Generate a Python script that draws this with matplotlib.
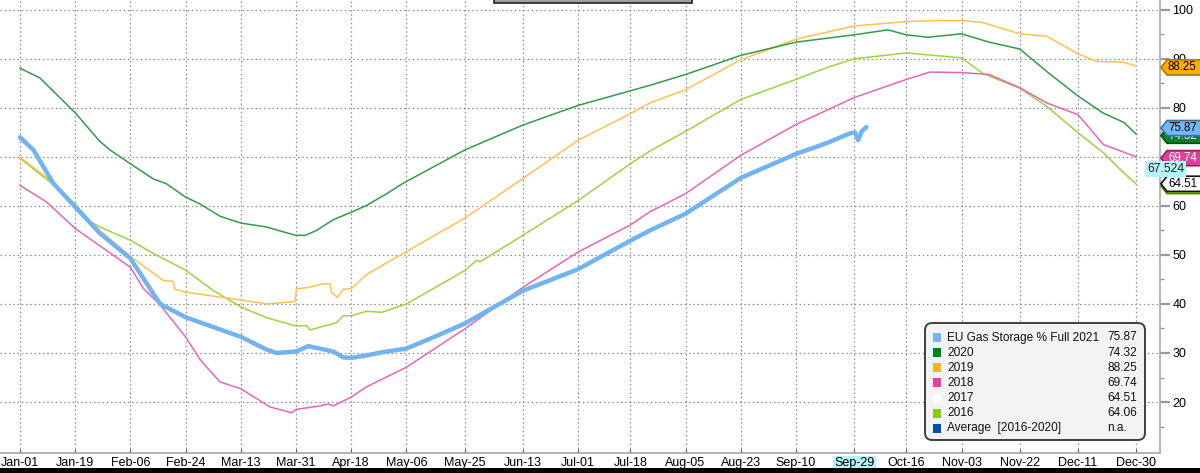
import matplotlib.pyplot as plt
from matplotlib.patches import Polygon, Rectangle, FancyBboxPatch
from matplotlib.transforms import blended_transform_factory

plt.rcParams['font.family'] = ['Liberation Sans', 'DejaVu Sans']

# eixo x em dias desde 01-jan (ano bissexto, como no grafico original)
tick_days = [0, 18, 36, 54, 72, 90, 108, 126, 145, 164, 182, 199, 217, 235, 253, 272, 289, 307, 326, 345, 364]
tick_labels = ["Jan-01", "Jan-19", "Feb-06", "Feb-24", "Mar-13", "Mar-31", "Apr-18", "May-06", "May-25",
               "Jun-13", "Jul-01", "Jul-18", "Aug-05", "Aug-23", "Sep-10", "Sep-29", "Oct-16", "Nov-03",
               "Nov-22", "Dec-11", "Dec-30"]

# 2020
dias_2020 = [0, 6.5, 18, 26, 29.4, 36, 43.5, 47.8, 54, 58.7, 65.2, 72, 80.4, 85.9, 90, 93, 96.7, 102.2, 108,
             113, 119.6, 124.6, 145, 164, 182, 205.4, 217, 235, 253, 272, 283, 289, 296, 307, 316, 326, 335,
             345, 353, 360, 364]
vals_2020 = [88.1, 86.1, 79.0, 73.2, 71.4, 68.6, 65.5, 64.5, 61.8, 60.4, 57.9, 56.5, 55.7, 54.7, 54.0, 54.0,
             55.0, 57.2, 58.7, 60.1, 62.5, 64.5, 71.4, 76.5, 80.5, 84.6, 86.8, 90.7, 93.4, 94.9, 95.9, 94.9,
             94.4, 95.1, 93.4, 92.0, 87.3, 82.4, 79.0, 77.0, 74.6]

# 2019
dias_2019 = [0, 9.8, 18, 26.1, 36, 46.7, 50, 50.5, 54, 72, 80.4, 89.7, 90.2, 93.5, 98.9, 101.1, 101.6, 103.5,
             105.4, 108, 113, 126, 145, 164, 182, 199, 205.4, 217, 235, 253, 272, 289, 298.9, 307, 314, 326,
             334.8, 345, 351, 359.8, 364]
vals_2019 = [69.9, 65.3, 59.8, 55.0, 49.7, 44.8, 44.6, 43.0, 42.4, 40.8, 40.0, 40.5, 43.1, 43.3, 44.1, 44.1,
             42.4, 41.3, 43.0, 43.1, 46.0, 50.7, 57.5, 65.6, 73.4, 78.8, 81.0, 83.7, 89.8, 94.0, 96.7, 97.6,
             97.8, 97.8, 97.4, 95.1, 94.6, 91.0, 89.5, 89.3, 88.5]

# 2018
dias_2018 = [0, 8.7, 18, 36, 40.2, 45.7, 54, 58.7, 65.2, 72, 81.5, 88.6, 90, 97.8, 100.5, 102.2, 108, 113, 126,
             145, 164, 182, 199, 205.4, 217, 235, 253, 272, 289, 296.7, 307, 316, 326, 334.8, 345, 353.3, 364]
vals_2018 = [64.2, 60.8, 55.4, 47.5, 43.2, 39.8, 33.3, 28.7, 24.1, 22.7, 19.0, 17.8, 18.5, 19.2, 19.6, 19.2,
             21.0, 23.1, 27.1, 34.9, 43.4, 50.6, 56.1, 58.8, 62.5, 70.3, 76.6, 82.1, 85.8, 87.3, 87.2, 86.8,
             84.1, 81.0, 78.6, 72.5, 70.0]

# 2016
dias_2016 = [0, 9.8, 18, 23, 26.1, 36, 43.5, 54, 62.9, 72, 80.4, 90, 93.5, 94.6, 103.3, 105.4, 108, 113, 118,
             126, 145, 148.9, 150, 164, 182, 199, 205.4, 217, 235, 253, 263, 272, 289, 307, 314, 326, 334.8,
             345, 353.3, 359.8, 364]
vals_2016 = [69.7, 64.9, 60.4, 56.8, 55.7, 53.0, 50.3, 46.9, 42.8, 39.4, 37.2, 35.5, 35.6, 34.7, 36.2, 37.6,
             37.6, 38.5, 38.3, 40.0, 46.8, 48.9, 48.6, 54.0, 61.1, 68.6, 71.2, 75.2, 81.7, 85.8, 88.2, 90.0,
             91.2, 90.2, 87.0, 84.0, 80.3, 74.9, 70.8, 66.8, 64.4]

# 2021 (EU Gas Storage % Full)
dias_2021 = [0, 4.4, 10.9, 18, 26.1, 36, 41.3, 45.7, 54, 72, 80.4, 83.7, 90, 94, 102.2, 105.4, 108, 113, 118.5,
             126, 134.8, 145, 164, 182, 199, 205.4, 217, 235, 253, 263, 270.6, 272.3, 273.3, 274.4, 276]
vals_2021 = [74.0, 71.4, 64.6, 59.8, 54.4, 49.3, 44.2, 40.0, 37.3, 33.3, 30.7, 30.0, 30.3, 31.4, 30.3, 29.1,
             29.0, 29.5, 30.2, 30.9, 33.2, 36.0, 42.7, 47.1, 52.9, 55.0, 58.4, 65.7, 70.6, 72.8, 74.8, 75.0,
             73.4, 75.2, 76.1]

legenda_nomes = ["EU Gas Storage % Full 2021", "2020", "2019", "2018", "2017", "2016", "Average  [2016-2020]"]
legenda_valores = ["75.87", "74.32", "88.25", "69.74", "64.51", "64.06", "n.a."]
legenda_cores = ["#74b6f3", "#00821e", "#ffb21a", "#e0439b", "#ffffff", "#88cf00", "#0052a6"]

W, H = 1200, 473
fig = plt.figure(figsize=(12, 4.73), dpi=100)
ax = fig.add_axes([0, 20 / H, 1160 / W, 453 / H])


def fpx(x, y):
    # pixel da imagem -> fracao da figura
    return x / W, 1 - y / H


ax.plot(dias_2016, vals_2016, color="#9ad63e", lw=1.1, zorder=3)
ax.plot(dias_2018, vals_2018, color="#e866b2", lw=1.1, zorder=3)
ax.plot(dias_2019, vals_2019, color="#ffc250", lw=1.1, zorder=3)
ax.plot(dias_2020, vals_2020, color="#37994b", lw=1.1, zorder=3)
ax.plot(dias_2021, vals_2021, color="#72b4f2", lw=3.2, zorder=4, solid_capstyle="round",
        solid_joinstyle="round")

ax.set_xlim(-6.5, 371.7)
ax.set_ylim(9.6, 102.0)

ax.set_xticks(tick_days)
ax.set_xticklabels(tick_labels)
ax.yaxis.tick_right()
ax.set_yticks(range(20, 101, 10))
ax.set_yticks(range(15, 100, 10), minor=True)
ax.tick_params(axis="x", direction="in", length=3, color="#555555", labelsize=9, pad=3)
ax.tick_params(axis="y", which="major", direction="out", length=7, width=1.6, color="#9a9a9a",
               labelsize=9, pad=2)
ax.tick_params(axis="y", which="minor", direction="out", length=3, width=1, color="#9a9a9a")
ax.grid(True, color="#8c8c8c", linestyle=(0, (1.2, 2.2)), linewidth=0.9, zorder=1)
ax.set_axisbelow(True)
for lado in ["top", "left"]:
    ax.spines[lado].set_visible(False)
for lado in ["right", "bottom"]:
    ax.spines[lado].set_color("#a8a8a8")
    ax.spines[lado].set_linewidth(1.2)

# destaque do rotulo Sep-29
for lbl in ax.get_xticklabels():
    if lbl.get_text() == "Sep-29":
        lbl.set_bbox(dict(facecolor="#b6f3fa", edgecolor="none", pad=1.0))

# etiquetas de ultimo valor no eixo direito
trans = blended_transform_factory(fig.transFigure, ax.transData)
camada = [10]


def etiqueta(valor, texto, fundo, borda, cor_texto):
    h = 1.55
    x0, x1, x2 = 1161 / W, 1167 / W, 1.01
    z = camada[0]
    camada[0] += 2
    poly = Polygon([(x0, valor), (x1, valor + h), (x2, valor + h), (x2, valor - h), (x1, valor - h)],
                   closed=True, facecolor=fundo, edgecolor=borda, lw=1.2, transform=trans, clip_on=False,
                   zorder=z)
    fig.add_artist(poly)
    fig.text(1168 / W, valor, texto, transform=trans, ha="left", va="center", fontsize=8.3, color=cor_texto,
             zorder=z + 1)


etiqueta(88.25, "88.25", "#ffad00", "#b07800", "black")
etiqueta(74.32, "74.32", "#00851f", "#005010", "white")
etiqueta(75.87, "75.87", "#74b6f3", "#3a6fa0", "black")
etiqueta(69.74, "69.74", "#e0409a", "#9a2060", "white")
etiqueta(64.06, "64.06", "#88cf00", "#507a00", "black")
etiqueta(64.51, "64.51", "#ffffff", "#111111", "black")

fig.text(1147 / W, 67.524, "67.524", transform=trans, ha="left", va="center", fontsize=8.8,
         color="#222222", bbox=dict(facecolor="#b6f3fa", edgecolor="none", pad=1.2), zorder=30)

# caixa da legenda
bx, by = fpx(925, 440)
bw, bh = 220 / W, 117 / H
fig.add_artist(FancyBboxPatch((bx, by), bw, bh, boxstyle="round,pad=0,rounding_size=0.006",
                              facecolor="#f3f3f3", edgecolor="#404040", lw=1.4,
                              transform=fig.transFigure, mutation_aspect=W / H))
for i, (nome, valor, cor) in enumerate(zip(legenda_nomes, legenda_valores, legenda_cores)):
    yc = 337.5 + i * 15.15
    sx, sy = fpx(933, yc + 4.5)
    fig.add_artist(Rectangle((sx, sy), 8 / W, 9 / H, facecolor=cor, edgecolor="none",
                             transform=fig.transFigure))
    fig.text(*fpx(947, yc), nome, ha="left", va="center", fontsize=8.6, color="#111111")
    fig.text(*fpx(1107, yc), valor, ha="left", va="center", fontsize=8.6, color="#111111")

# caixa cortada no topo e faixa preta no rodape
fig.add_artist(Rectangle(fpx(494, 3), 198 / W, 5 / H, facecolor="#a0a0a0", edgecolor="#222222", lw=1.2,
                         transform=fig.transFigure))
fig.add_artist(Rectangle((0, 0), 1, 5 / H, facecolor="black", edgecolor="none", transform=fig.transFigure))

plt.savefig("out.png", dpi=100)
plt.close()
